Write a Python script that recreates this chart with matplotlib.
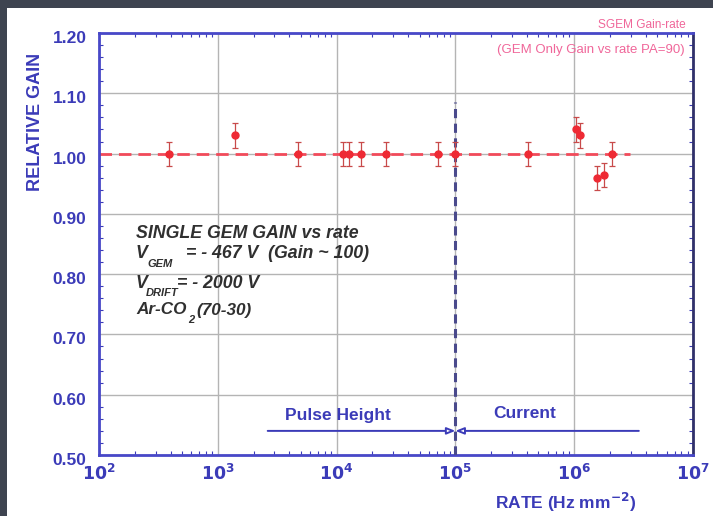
import matplotlib
matplotlib.use("Agg")
import matplotlib.pyplot as plt
from matplotlib.patches import Rectangle
from matplotlib.ticker import FixedLocator, NullFormatter, LogLocator
from matplotlib.transforms import ScaledTranslation
import numpy as np

plt.rcParams['font.family'] = ['Liberation Sans', 'DejaVu Sans']

# Measured single-GEM relative gain versus rate
rates = [390, 1400, 4770, 11400, 12600, 16200, 26300, 70800, 100000,
         406000, 1.03e6, 1.11e6, 1.55e6, 1.78e6, 2.07e6]
gains = [1.00, 1.03, 1.00, 1.00, 1.00, 1.00, 1.00, 1.00, 1.00,
         1.00, 1.04, 1.03, 0.96, 0.965, 1.00]
gain_err = [0.02] * len(rates)

reference_gain = 1.00
reference_span = [1e2, 2.95e6]
method_boundary = 1e5
boundary_top = 1.085
pulse_height_start = 2630
current_end = 3.5e6
arrow_level = 0.54

x_ticks = [1e2, 1e3, 1e4, 1e5, 1e6, 1e7]
x_tick_labels = [r"$\mathbf{10^{2}}$", r"$\mathbf{10^{3}}$", r"$\mathbf{10^{4}}$",
                 r"$\mathbf{10^{5}}$", r"$\mathbf{10^{6}}$", r"$\mathbf{10^{7}}$"]
y_ticks = [0.50, 0.60, 0.70, 0.80, 0.90, 1.00, 1.10, 1.20]
y_tick_labels = ["0.50", "0.60", "0.70", "0.80", "0.90", "1.00", "1.10", "1.20"]

BLUE = "#3b3bb8"
RED = "#ee2a34"
PINK = "#f0679a"
TEXT = "#303030"

fig = plt.figure(figsize=(7.13, 5.16), dpi=100)
fig.patch.set_facecolor("white")
# dark frame strips along the top and left edges
fig.patches.append(Rectangle((0, 1 - 8 / 516), 1, 8 / 516, transform=fig.transFigure,
                             facecolor="#3e4450", edgecolor="none", zorder=0))
fig.patches.append(Rectangle((0, 0), 7 / 713, 1, transform=fig.transFigure,
                             facecolor="#3e4450", edgecolor="none", zorder=0))

ax = fig.add_axes([99 / 713, 1 - 455 / 516, (693 - 99) / 713, (455 - 33) / 516])
ax.set_xscale("log")
ax.set_xlim(1e2, 1e7)
ax.set_ylim(0.50, 1.20)

ax.xaxis.set_major_locator(FixedLocator(x_ticks))
ax.set_xticklabels(x_tick_labels)
ax.xaxis.set_minor_locator(LogLocator(base=10, subs=np.arange(2, 10)))
ax.xaxis.set_minor_formatter(NullFormatter())
ax.yaxis.set_major_locator(FixedLocator(y_ticks))
ax.set_yticklabels(y_tick_labels)
ax.yaxis.set_minor_locator(FixedLocator(np.arange(0.50, 1.2001, 0.02)))

ax.grid(True, which="major", color="#b4b4b4", linewidth=1.0)
ax.tick_params(which="both", direction="in", top=True, right=True, color=BLUE)
ax.tick_params(which="major", length=0, labelsize=12.5, labelcolor=BLUE)
ax.tick_params(axis="y", which="major", pad=9)
ax.tick_params(axis="x", which="major", pad=6)
ax.tick_params(which="minor", length=3, width=0.8)
shift_down = ScaledTranslation(0, -4 / 100, fig.dpi_scale_trans)
for lbl in ax.get_yticklabels():
    lbl.set_fontweight("bold")
    lbl.set_transform(lbl.get_transform() + shift_down)
for lbl in ax.get_xticklabels():
    lbl.set_fontweight("bold")
for side in ["left", "top", "bottom"]:
    ax.spines[side].set_color("#4848c8")
    ax.spines[side].set_linewidth(2.0)
ax.spines["right"].set_color("#30306a")
ax.spines["right"].set_linewidth(2.0)

# reference level and measurement-method boundary
ax.plot(reference_span, [reference_gain, reference_gain], color="#f24a5a",
        linestyle=(0, (4.5, 2.5)), linewidth=2.0, zorder=2)
ax.plot([method_boundary, method_boundary], [0.50, boundary_top], color="#4a4a8c",
        linestyle=(0, (3, 1.8)), linewidth=2.2, zorder=4)

ax.errorbar(rates, gains, yerr=gain_err, fmt="o", color=RED, markersize=5,
            ecolor="#c84a4a", elinewidth=0.9, capsize=2.5, capthick=0.9, zorder=5)

# measurement-method ranges
ax.annotate("", xy=(method_boundary, arrow_level), xytext=(pulse_height_start, arrow_level),
            arrowprops=dict(arrowstyle="-|>,head_length=0.5,head_width=0.2",
                            color=BLUE, lw=1.4, fc="white", shrinkA=0, shrinkB=0))
ax.annotate("", xy=(method_boundary, arrow_level), xytext=(current_end, arrow_level),
            arrowprops=dict(arrowstyle="-|>,head_length=0.5,head_width=0.2",
                            color=BLUE, lw=1.4, fc="white", shrinkA=0, shrinkB=0))
ax.text(1.03e4, 0.566, "Pulse Height", color=BLUE, fontsize=12.5, fontweight="bold",
        ha="center", va="center")
ax.text(3.85e5, 0.569, "Current", color=BLUE, fontsize=12.5, fontweight="bold",
        ha="center", va="center")

# run conditions
def px(x, y):
    return (x - 99) / 594, (455 - y) / 422

tk = dict(color=TEXT, fontweight="bold", style="italic", transform=ax.transAxes,
          va="center", ha="left")
ax.text(*px(136, 233), "SINGLE GEM GAIN vs rate", fontsize=12.8, **tk)
ax.text(*px(136, 254), "V", fontsize=12.8, **tk)
ax.text(*px(147, 264), "GEM", fontsize=8, **tk)
ax.text(*px(186, 254), "= - 467 V  (Gain ~ 100)", fontsize=12.8, **tk)
ax.text(*px(136, 283), "V", fontsize=12.8, **tk)
ax.text(*px(146, 293), "DRIFT", fontsize=8, **tk)
ax.text(*px(177, 283), "= - 2000 V", fontsize=12.8, **tk)
ax.text(*px(136, 310), "Ar-CO", fontsize=12.3, **tk)
ax.text(*px(188, 320), "2", fontsize=8, **tk)
ax.text(*px(196, 310), "(70-30)", fontsize=12.3, **tk)

fig.text(686 / 713, 1 - 25 / 516, "SGEM Gain-rate", color=PINK, fontsize=8.6,
         ha="right", va="center")
ax.text(*px(685, 50), "(GEM Only Gain vs rate PA=90)", color=PINK, fontsize=9.5,
        ha="right", va="center", transform=ax.transAxes)

ax.set_ylabel("RELATIVE GAIN", color=BLUE, fontsize=13, fontweight="bold")
ax.yaxis.set_label_coords(-0.093, (455 - 122) / 422)
fig.text(566 / 713, 1 - 502 / 516, r"RATE (Hz mm$^{\mathbf{-2}}$)", color=BLUE,
         fontsize=12.5, fontweight="bold", ha="center", va="center")

fig.savefig("out.png", dpi=100, facecolor=fig.get_facecolor())
